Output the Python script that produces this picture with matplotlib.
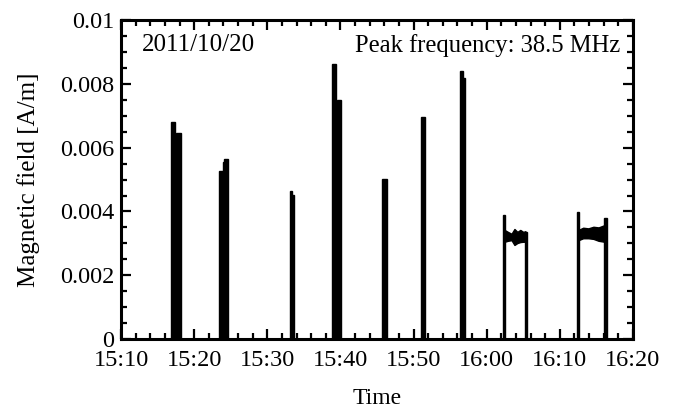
#!/usr/bin/env python3
"""Magnetic field bursts seen on 2011/10/20 (peak frequency 38.5 MHz)."""

import matplotlib
matplotlib.use("Agg")
import matplotlib.pyplot as plt
from matplotlib.ticker import FuncFormatter, MultipleLocator

# time is in minutes after 15:00
pulse_start = [16.84, 17.47, 23.44, 23.89, 24.07, 33.11, 33.38, 38.85, 39.40, 39.49,
               45.73, 50.98, 56.35, 56.79, 62.19, 65.20, 72.30, 76.05]
pulse_end = [17.43, 18.19, 23.89, 24.07, 24.67, 33.38, 33.65, 39.40, 39.49, 40.08,
             46.41, 51.56, 56.79, 57.10, 62.50, 65.46, 72.62, 76.40]
pulse_level = [0.0068, 0.00645, 0.00527, 0.00556, 0.00564, 0.00464, 0.00451, 0.00862,
               0.00705, 0.00749, 0.00502, 0.00696, 0.0084, 0.00817, 0.00389, 0.00336,
               0.00399, 0.00378]

# the two long bursts after 16:00 sit on a noisy plateau
band1_time = [62.45, 62.9, 63.4, 63.8, 64.2, 64.6, 65.0, 65.3]
band1_upper = [0.00342, 0.00336, 0.00330, 0.00345, 0.00336, 0.00342, 0.00336, 0.00338]
band1_lower = [0.00305, 0.00308, 0.00310, 0.00295, 0.00301, 0.00304, 0.00305, 0.00305]

band2_time = [72.55, 73.2, 73.9, 74.6, 75.3, 76.1]
band2_upper = [0.00342, 0.00349, 0.00347, 0.00352, 0.00350, 0.00357]
band2_lower = [0.00310, 0.00316, 0.00316, 0.00314, 0.00308, 0.00305]

date_text = "2011/10/20"
freq_text = "Peak frequency: 38.5 MHz"


def time_label(minutes, _pos=None):
    m = int(round(minutes))
    return f"{15 + m // 60}:{m % 60:02d}"


def main() -> None:
    plt.rcParams["font.family"] = ["Liberation Serif", "DejaVu Serif"]
    plt.rcParams["font.size"] = 17.5

    fig = plt.figure(figsize=(6.78, 4.09), dpi=100)
    ax = fig.add_axes([0.1785, 0.171, 0.755, 0.78])

    widths = [e - s for s, e in zip(pulse_start, pulse_end)]
    ax.bar(pulse_start, pulse_level, width=widths, align="edge",
           color="black", edgecolor="black", linewidth=1.0)
    for t, up, lo in ((band1_time, band1_upper, band1_lower),
                      (band2_time, band2_upper, band2_lower)):
        ax.fill_between(t, lo, up, color="black", linewidth=1.0, edgecolor="black")

    ax.set_xlim(10, 80)
    ax.set_ylim(0, 0.01)
    ax.xaxis.set_major_locator(MultipleLocator(10))
    ax.xaxis.set_minor_locator(MultipleLocator(2))
    ax.yaxis.set_major_locator(MultipleLocator(0.002))
    ax.yaxis.set_minor_locator(MultipleLocator(0.0005))
    ax.xaxis.set_major_formatter(FuncFormatter(time_label))
    ax.yaxis.set_major_formatter(FuncFormatter(lambda v, p: f"{v:g}"))

    ax.tick_params(which="both", direction="in", top=True, right=True, width=1.6)
    ax.tick_params(axis="x", which="major", length=7, pad=8)
    ax.tick_params(axis="y", which="major", length=7, pad=5)
    ax.tick_params(which="minor", length=4)
    for spine in ax.spines.values():
        spine.set_linewidth(2.2)

    ax.set_xlabel("Time", fontsize=17, labelpad=12)
    ax.set_ylabel("Magnetic field [A/m]", fontsize=18, labelpad=14.5)

    ax.text(0.041, 0.955, date_text, fontsize=18, transform=ax.transAxes,
            ha="left", va="top")
    ax.text(0.975, 0.955, freq_text, fontsize=17.7, transform=ax.transAxes,
            ha="right", va="top")

    fig.savefig("out.png", dpi=100)
    plt.close(fig)


if __name__ == "__main__":
    main()
